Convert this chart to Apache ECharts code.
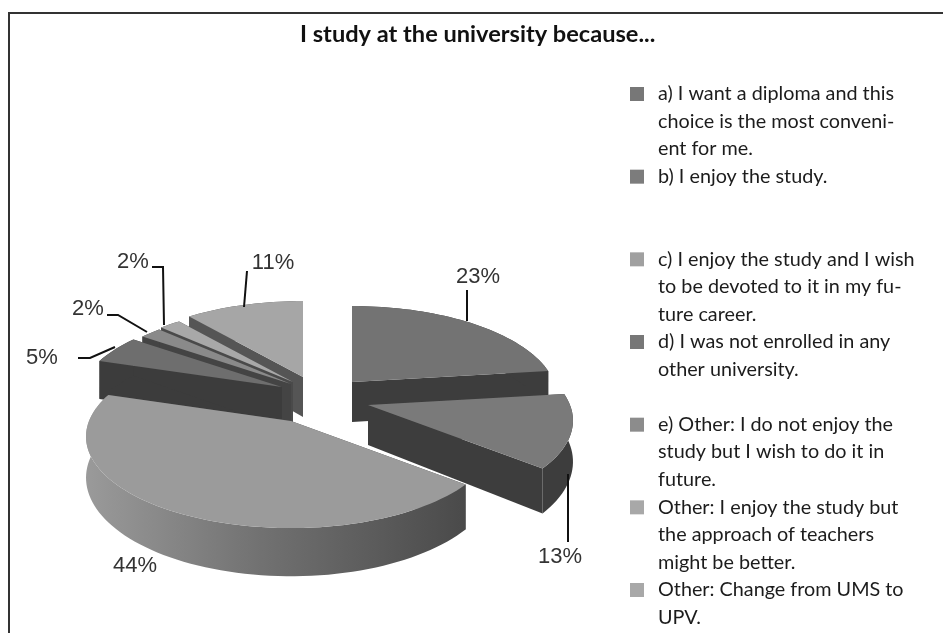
<!DOCTYPE html>
<html><head><meta charset="utf-8">
<style>html,body{margin:0;padding:0;background:#fff}#c{width:943px;height:633px}</style>
<script src="https://cdn.jsdelivr.net/npm/echarts@6/dist/echarts.min.js"></script>
</head><body><div id="c"></div>
<script>
const titleText = 'I study at the university because...';
const categories = [
  'a) I want a diploma and this\nchoice is the most conveni-\nent for me.',
  'b) I enjoy the study.',
  'c) I enjoy the study and I wish\nto be devoted to it in my fu-\nture career.',
  'd) I was not enrolled in any\nother university.',
  'e) Other: I do not enjoy the\nstudy but I wish to do it in\nfuture.',
  'Other: I enjoy the study but\nthe approach of teachers\nmight be better.',
  'Other: Change from UMS to\nUPV.'
];
const values = [23, 13, 44, 5, 2, 2, 11];
const percentLabels = ['23%', '13%', '44%', '5%', '2%', '2%', '11%'];

// styling
const topColors  = ['#737373', '#7a7a7a', '#9b9b9b', '#6e6e6e', '#8a8a8a', '#a8a8a8', '#a6a6a6'];
const wallColors = ['#3d3d3d', '#3d3d3d', '#4a4a4a', '#3c3c3c', '#444444', '#4a4a4a', '#555555'];
const swatchColors = ['#777777', '#7c7c7c', '#a0a0a0', '#777777', '#8c8c8c', '#a8a8a8', '#a8a8a8'];
// where each exploded slice's tip sits on the page
const tips = [[352, 382], [368, 405], [291, 421], [282, 387], [291, 384], [293, 382], [303, 377]];
const paintOrder = [6, 5, 4, 3, 0, 1, 2];
// annotation layout: label centre and leader polyline
const labelPos = [[478, 277], [560, 557], [135, 566], [42, 358], [88, 309], [133, 262], [273, 263]];
const leaders = [
  [[467, 290], [467, 321]],
  [[568, 474], [568, 542]],
  [],
  [[78, 358], [90, 358], [115, 347]],
  [[107, 315], [118, 315], [147, 332]],
  [[152, 267], [163, 267], [164, 325]],
  [[247, 271], [244, 307]]
];

const R = 202, Q = 0.44, K = 0.17, DEPTH = 40;
const total = values.reduce((a, b) => a + b, 0);
const starts = [];
values.reduce((acc, v, i) => { starts[i] = acc; return acc + v; }, 0);

function project(tip, deg, r, h) {
  const a = deg * Math.PI / 180, u = Math.sin(a) * r, v = -Math.cos(a) * r;
  const s = 1 / (1 - K * v);
  return [tip[0] + s * R * u, tip[1] + s * R * Q * v + h * DEPTH * s];
}

function renderSlice(i, api) {
  const value = api.value(0);
  const tip = tips[i];
  const a0 = starts[i] / total * 360, a1 = a0 + value / total * 360;
  const arcTop = [], arcBottom = [];
  const n = Math.max(2, Math.ceil((a1 - a0) / 2));
  for (let k = 0; k <= n; k++) {
    const a = a0 + (a1 - a0) * k / n;
    arcTop.push(project(tip, a, 1, 0));
    arcBottom.push(project(tip, a, 1, 1));
  }
  const c0 = project(tip, 0, 0, 0), c1 = project(tip, 0, 0, 1);
  const wall = wallColors[i];
  const radial = (p, q) => ({ type: 'polygon', shape: { points: [c0, p, q, c1] }, style: { fill: wall } });
  const children = [
    radial(arcTop[0], arcBottom[0]),
    radial(arcTop[n], arcBottom[n])
  ];
  let outerFill = wall;
  if (i === 2) {
    outerFill = new echarts.graphic.LinearGradient(0, 0, 1, 0, [
      { offset: 0, color: '#9a9a9a' }, { offset: 0.45, color: '#727272' }, { offset: 1, color: '#4a4a4a' }
    ]);
  }
  children.push({ type: 'polygon', shape: { points: arcTop.concat(arcBottom.slice().reverse()) }, style: { fill: outerFill } });
  children.push({ type: 'polygon', shape: { points: [c0].concat(arcTop) }, style: { fill: topColors[i] } });
  if (leaders[i].length) {
    children.push({ type: 'polyline', shape: { points: leaders[i] }, style: { fill: 'none', stroke: '#111', lineWidth: 2 }, z2: 5 });
  }
  children.push({
    type: 'text', z2: 6,
    style: { x: labelPos[i][0], y: labelPos[i][1], text: percentLabels[i], fill: '#333', font: '22px "Liberation Sans"', align: 'center', verticalAlign: 'middle' }
  });
  return { type: 'group', children };
}

function legendText(name) {
  const lines = name.split('\n');
  while (lines.length < 3) lines.push('');
  return '\n\n' + lines.join('\n');
}

const chart = echarts.init(document.getElementById('c'), null, { renderer: 'canvas' });
chart.setOption({
  animation: false,
  backgroundColor: '#fff',
  title: { text: titleText, left: 300, top: 22, textStyle: { fontFamily: 'Lato', fontSize: 23.6, fontWeight: 'bold', color: '#111' }, padding: 0 },
  legend: {
    orient: 'vertical', left: 630, top: 25.5, height: 700, padding: 0,
    itemWidth: 14, itemHeight: 14, itemGap: -54.33, icon: 'rect',
    selectedMode: false,
    data: categories.map((name, i) => ({ name, itemStyle: { color: swatchColors[i] } })),
    formatter: legendText,
    textStyle: { fontFamily: 'Lato', fontSize: 19.8, lineHeight: 27.4, color: '#1c1c1c', padding: [0, 0, 0, 9] }
  },
  graphic: [{
    type: 'polyline', silent: true,
    shape: { points: [[9, 640], [9, 13], [950, 13]] },
    style: { fill: 'none', stroke: '#333', lineWidth: 2 }
  }],
  series: paintOrder.map(i => ({
    type: 'custom', name: categories[i], coordinateSystem: 'none', silent: true,
    itemStyle: { color: swatchColors[i] },
    data: [[values[i]]],
    renderItem: (params, api) => renderSlice(i, api)
  }))
});
</script></body></html>
